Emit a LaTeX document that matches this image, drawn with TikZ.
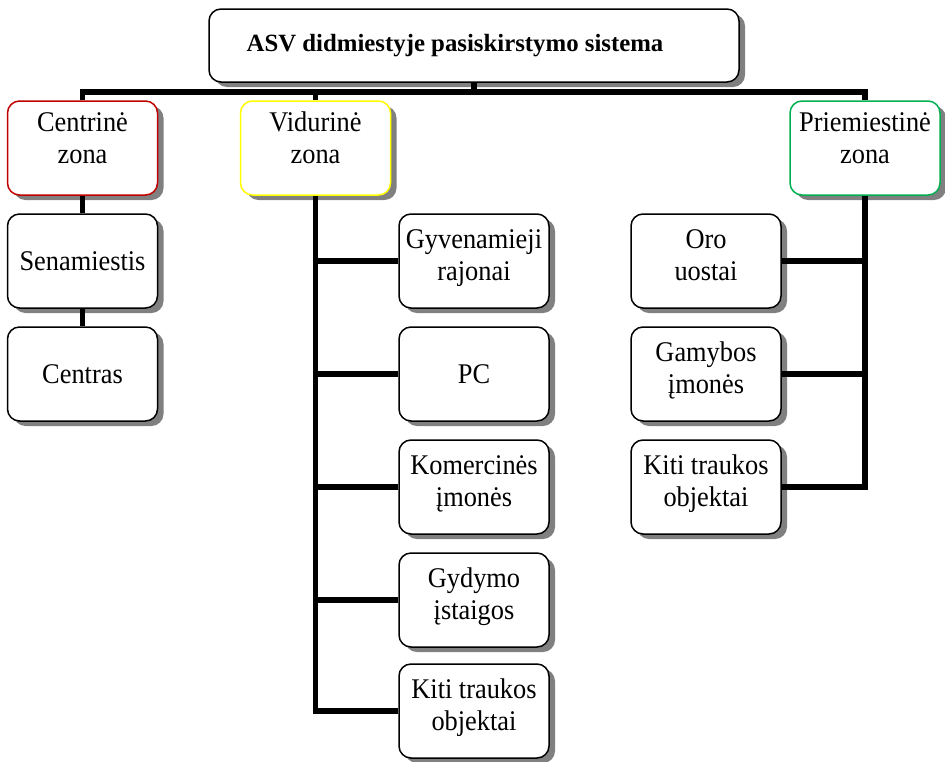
\documentclass[tikz,border=0pt]{standalone}
\usepackage{fontspec}
\setmainfont{Liberation Serif}[FakeStretch=0.925]
\newfontfamily\titlefont{Liberation Serif}
\usetikzlibrary{shadows}

% two centred lines whose reference point is the first baseline
\newcommand{\twoln}[2]{\begin{tabular}[t]{@{}c@{}}#1\\#2\end{tabular}}

\definecolor{zonered}{RGB}{192,0,0}
\definecolor{zoneyellow}{RGB}{255,255,0}
\definecolor{zonegreen}{RGB}{0,176,80}

\tikzset{
  box/.style={draw=black, line width=1.5pt, rounded corners=12pt, fill=white,
    minimum width=150pt, minimum height=94pt, inner sep=0pt, align=center,
    font=\fontsize{28.5pt}{32pt}\selectfont,
    drop shadow={shadow xshift=6pt, shadow yshift=-5pt, fill=black!50, opacity=1}},
  zonetext/.style={text height=22.4pt, text depth=55.4pt},
  itemtext/.style={text height=22.4pt, text depth=47.4pt},
  conn/.style={line width=5.5pt, line join=miter, line cap=butt}
}

\begin{document}
\begin{tikzpicture}[x=1pt, y=-1pt]
  \useasboundingbox (0,0) rectangle (945,761);
  \fill[white] (0,0) rectangle (945,761);

  % title (text sits a little left of the box centre)
  \node[box, minimum width=530pt, minimum height=73pt,
        font=\titlefont\fontsize{24.8pt}{30pt}\selectfont\bfseries]
    (top) at (474,45.5) {ASV didmiestyje pasiskirstymo sistema\hspace*{38pt}};

  % zones
  \node[box, zonetext, draw=zonered]    (centr) at (82.5,148) {\twoln{Centrinė}{zona}};
  \node[box, zonetext, draw=zoneyellow] (vid)   at (315.5,148) {\twoln{Vidurinė}{zona}};
  \node[box, zonetext, draw=zonegreen]  (prie)  at (865,148) {\twoln{Priemiestinė}{zona}};

  % central zone
  \node[box] (sen) at (82.5,261) {Senamiestis};
  \node[box] (cen) at (82.5,374) {Centras};

  % middle zone
  \node[box, itemtext] (gyv)   at (474,261) {\twoln{Gyvenamieji}{rajonai}};
  \node[box]           (pc)    at (474,374) {PC};
  \node[box, itemtext] (kom)   at (474,487) {\twoln{Komercinės}{įmonės}};
  \node[box, itemtext] (gyd)   at (474,600) {\twoln{Gydymo}{įstaigos}};
  \node[box, itemtext] (kitiv) at (474,711) {\twoln{Kiti traukos}{objektai}};

  % suburban zone
  \node[box, itemtext] (oro)   at (706,261) {\twoln{Oro}{uostai}};
  \node[box, itemtext] (gam)   at (706,374) {\twoln{Gamybos}{įmonės}};
  \node[box, itemtext] (kitip) at (706,487) {\twoln{Kiti traukos}{objektai}};

  % main bus
  \coordinate (bus) at (474,92);
  \draw[conn] (top.south) -- (bus);
  \draw[conn] (centr.north) |- (bus) -| (prie.north);
  \draw[conn] (vid.north) -- (vid.north |- bus);

  % central column
  \draw[conn] (centr.south) -- (sen.north);
  \draw[conn] (sen.south) -- (cen.north);

  % middle column
  \draw[conn] (vid.south) |- (kitiv.west);
  \foreach \n in {gyv,pc,kom,gyd}
    \draw[conn] (\n.west) -- (\n.west -| vid.south);

  % suburban column
  \draw[conn] (prie.south) |- (kitip.east);
  \foreach \n in {oro,gam}
    \draw[conn] (\n.east) -- (\n.east -| prie.south);
\end{tikzpicture}
\end{document}
